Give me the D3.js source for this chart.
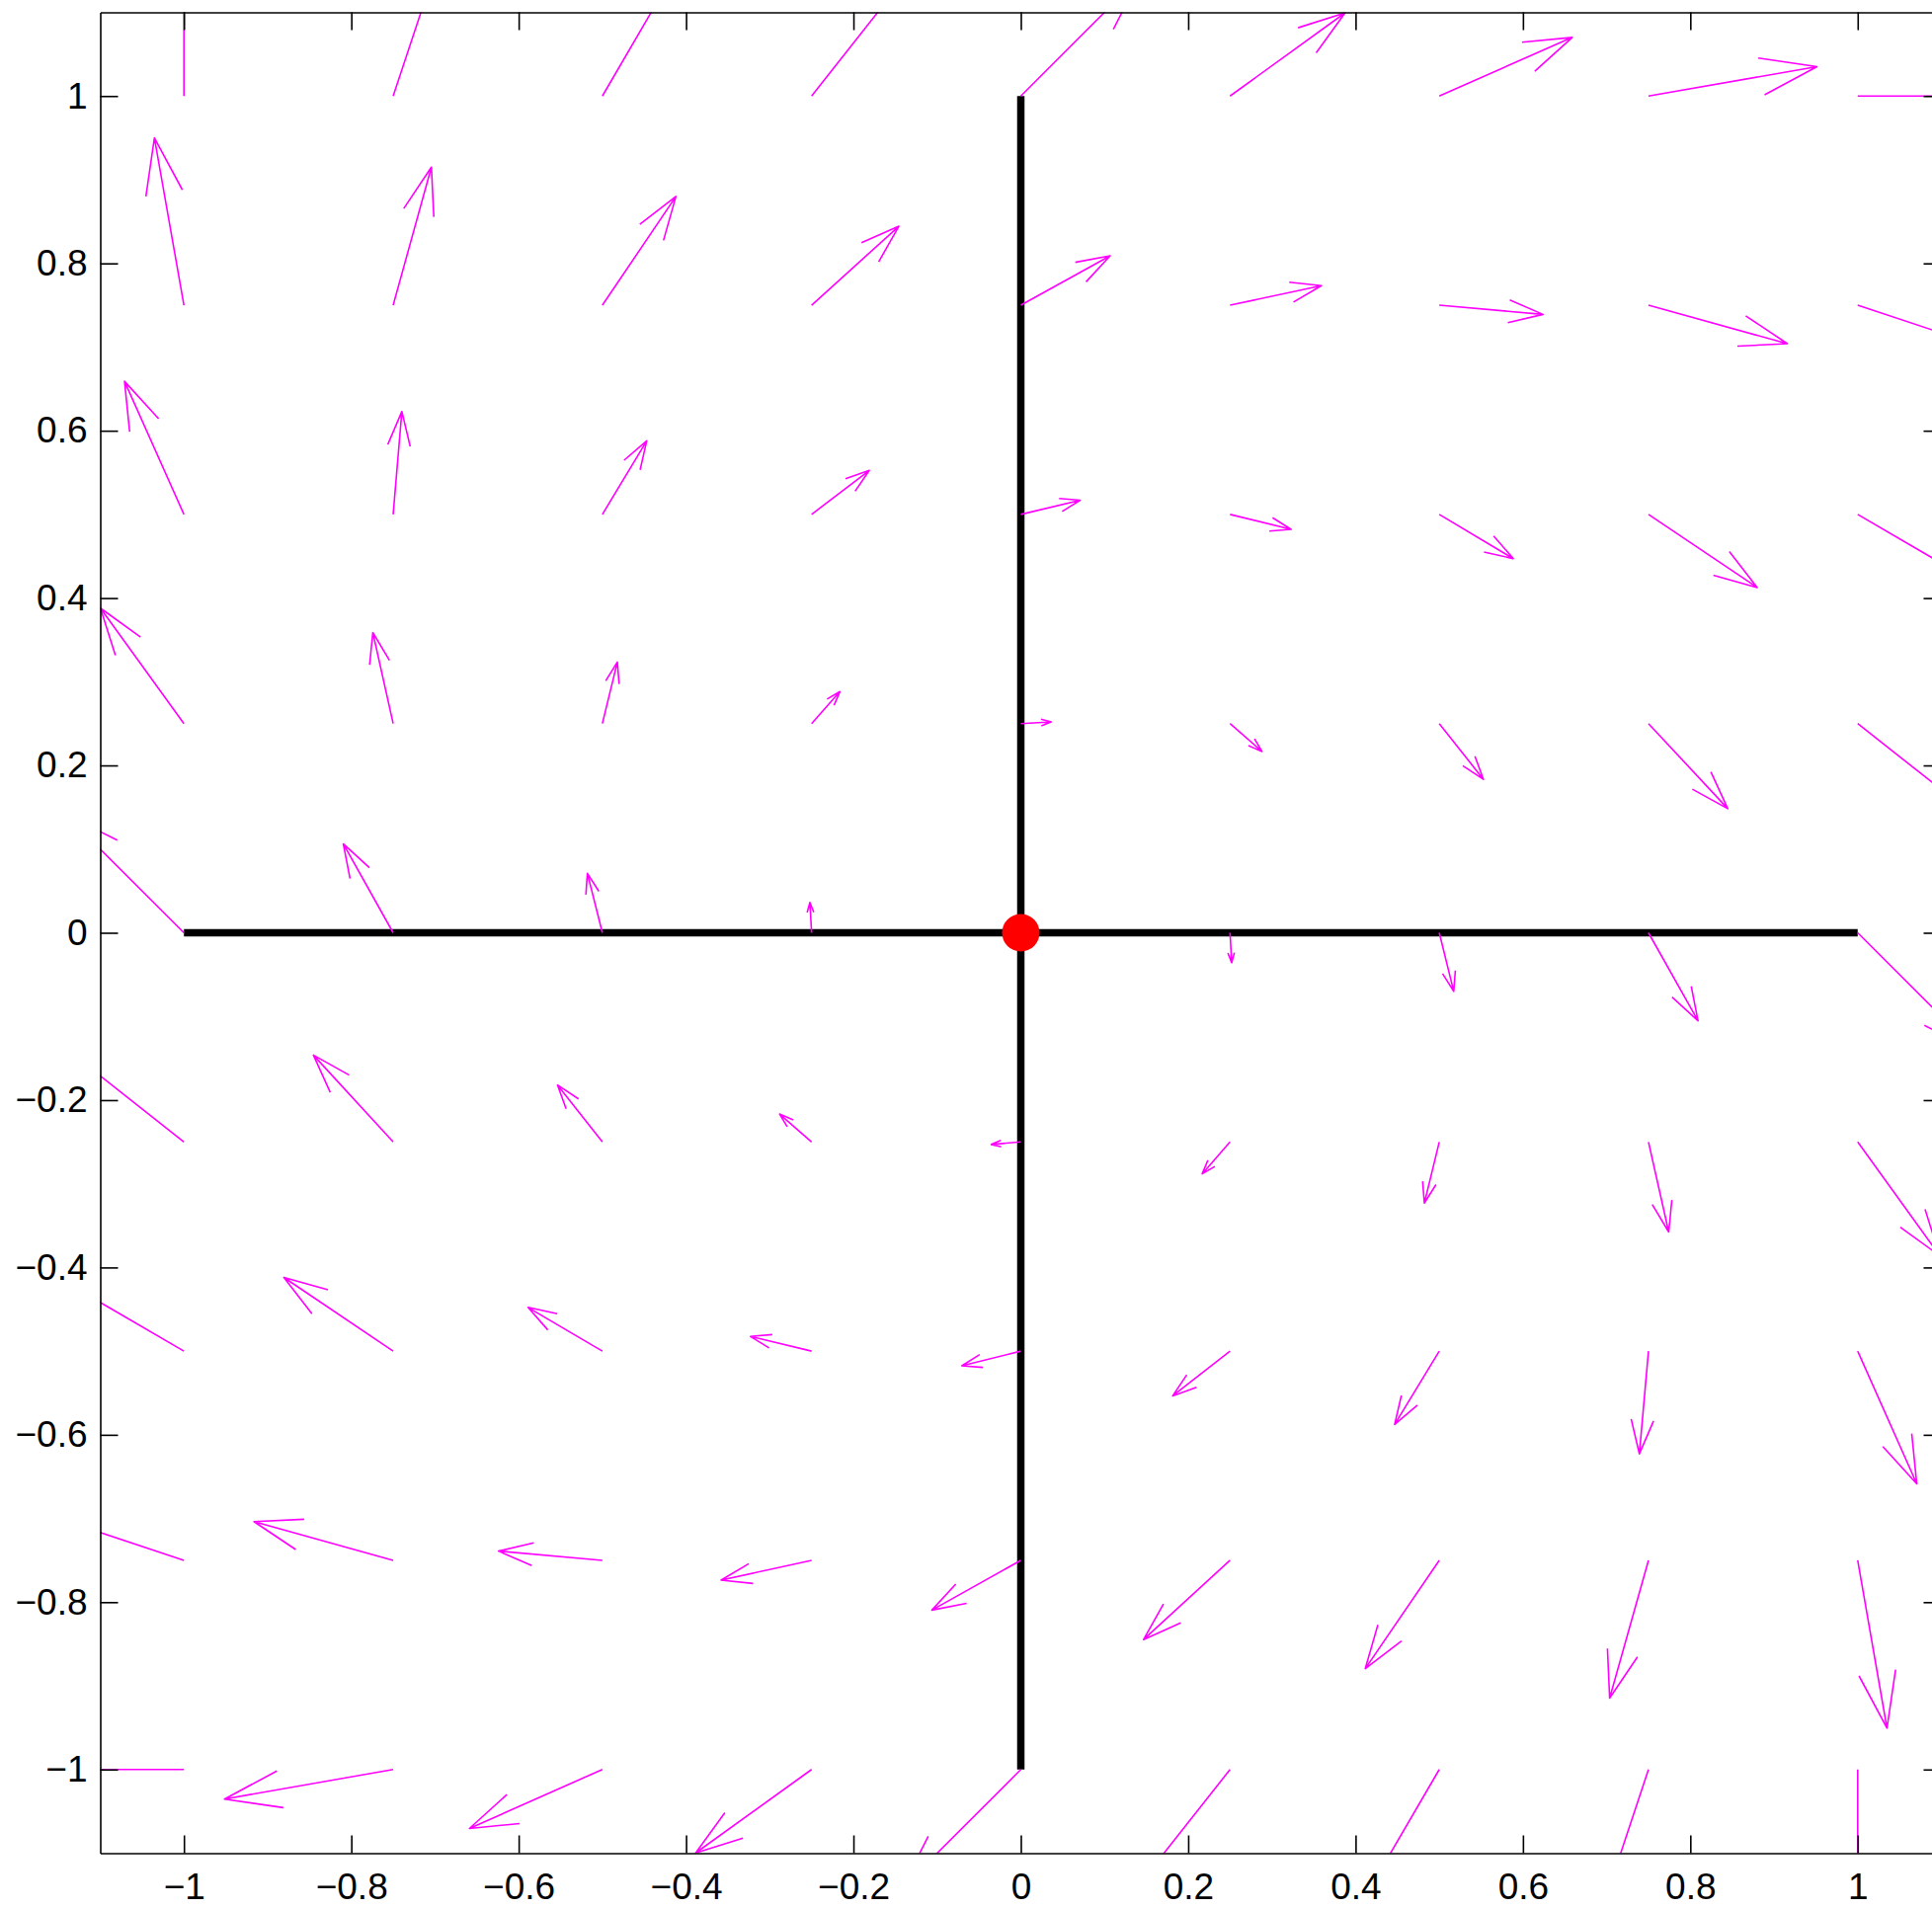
<!DOCTYPE html>
<html>
<head>
<meta charset="utf-8">
<script src="https://cdn.jsdelivr.net/npm/d3@7"></script>
<style>
  body { margin: 0; background: #fff; }
  svg { display: block; }
</style>
</head>
<body>
<svg id="chart" width="1956" height="1932"></svg>
<script>
// quiver grid (tails of the arrows)
const gridX = [-1, -0.75, -0.5, -0.25, 0, 0.25, 0.5, 0.75, 1];
const gridY = [1, 0.75, 0.5, 0.25, 0, -0.25, -0.5, -0.75, -1];

// arrow components as drawn (already scaled), one row per gridY value
const uRows = [
  [0, 0.082, 0.123, 0.139, 0.142, 0.1375, 0.159, 0.2014, 0.282],
  [-0.0353, 0.0457, 0.0879, 0.1043, 0.1068, 0.1093, 0.124, 0.166, 0.247],
  [-0.071, 0.0104, 0.053, 0.069, 0.071, 0.073, 0.0884, 0.130, 0.211],
  [-0.0998, -0.0243, 0.0179, 0.0338, 0.0363, 0.0382, 0.0528, 0.0948, 0.176],
  [-0.142, -0.0596, -0.0179, -0.002, 0, 0.002, 0.0173, 0.0592, 0.142],
  [-0.176, -0.0953, -0.0536, -0.0382, -0.0353, -0.0333, -0.0178, 0.0242, 0.098],
  [-0.211, -0.1306, -0.0889, -0.073, -0.0705, -0.0685, -0.0533, -0.0109, 0.0706],
  [-0.247, -0.1663, -0.1241, -0.1082, -0.1063, -0.1033, -0.0884, -0.0464, 0.035],
  [-0.282, -0.2016, -0.1589, -0.1385, -0.142, -0.139, -0.123, -0.082, 0]
];
const vRows = [
  [0.282, 0.247, 0.211, 0.176, 0.142, 0.0994, 0.0701, 0.035, 0],
  [0.200, 0.165, 0.130, 0.0944, 0.0591, 0.0233, -0.011, -0.046, -0.082],
  [0.159, 0.123, 0.088, 0.0526, 0.0169, -0.0179, -0.0528, -0.0874, -0.123],
  [0.138, 0.1088, 0.0735, 0.0382, 0.002, -0.0333, -0.0667, -0.1017, -0.139],
  [0.142, 0.1063, 0.071, 0.0363, 0, -0.0358, -0.0701, -0.1052, -0.142],
  [0.139, 0.1038, 0.068, 0.0333, -0.003, -0.0382, -0.0731, -0.1076, -0.136],
  [0.123, 0.0881, 0.0523, 0.0176, -0.0176, -0.0534, -0.0876, -0.1228, -0.1586],
  [0.082, 0.0463, 0.011, -0.0237, -0.0595, -0.0947, -0.1294, -0.1647, -0.2005],
  [0, -0.0353, -0.0705, -0.0997, -0.142, -0.176, -0.211, -0.247, -0.282]
];

// thick black cross and the equilibrium point
const crossLines = [
  { x1: -1, y1: 0, x2: 1, y2: 0 },
  { x1: 0, y1: -1, x2: 0, y2: 1 }
];
const equilibria = [{ x: 0, y: 0 }];

const tickValues = [-1, -0.8, -0.6, -0.4, -0.2, 0, 0.2, 0.4, 0.6, 0.8, 1];
const axisLimits = [-1.1, 1.1];

const svg = d3.select('#chart');
const x = d3.scaleLinear().domain(axisLimits).range([101.5, 1965.5]);
const y = d3.scaleLinear().domain(axisLimits).range([1876.5, 12.5]);

svg.append('rect').attr('width', 1956).attr('height', 1932).attr('fill', '#fff');

svg.append('defs').append('clipPath').attr('id', 'plotClip')
  .append('rect')
    .attr('x', x(axisLimits[0])).attr('y', y(axisLimits[1]))
    .attr('width', x(axisLimits[1]) - x(axisLimits[0]))
    .attr('height', y(axisLimits[0]) - y(axisLimits[1]));

const plot = svg.append('g').attr('clip-path', 'url(#plotClip)');

// black cross
plot.append('g')
  .selectAll('line')
  .data(crossLines)
  .join('line')
    .attr('x1', d => x(d.x1)).attr('y1', d => y(d.y1))
    .attr('x2', d => x(d.x2)).attr('y2', d => y(d.y2))
    .attr('stroke', '#000')
    .attr('stroke-width', 7.5)
    .attr('stroke-linecap', 'butt');

// red dot
plot.append('g')
  .selectAll('circle')
  .data(equilibria)
  .join('circle')
    .attr('cx', d => x(d.x)).attr('cy', d => y(d.y))
    .attr('r', 19)
    .attr('fill', '#ff0000');

// quiver arrows, head shape like matlab (alpha = beta = 0.33)
const arrows = [];
gridY.forEach((gy, i) => {
  gridX.forEach((gx, j) => {
    const u = uRows[i][j], v = vRows[i][j];
    if (u === 0 && v === 0) return;
    arrows.push({ x: gx, y: gy, u, v });
  });
});

const alpha = 0.33, beta = 0.33;
function arrowPath(d) {
  const tx = d.x + d.u, ty = d.y + d.v;
  const e1x = tx - alpha * (d.u + beta * d.v), e1y = ty - alpha * (d.v - beta * d.u);
  const e2x = tx - alpha * (d.u - beta * d.v), e2y = ty - alpha * (d.v + beta * d.u);
  const p = d3.path();
  p.moveTo(x(d.x), y(d.y));
  p.lineTo(x(tx), y(ty));
  p.moveTo(x(e1x), y(e1y));
  p.lineTo(x(tx), y(ty));
  p.lineTo(x(e2x), y(e2y));
  return p.toString();
}

plot.append('g')
  .selectAll('path')
  .data(arrows)
  .join('path')
    .attr('d', arrowPath)
    .attr('fill', 'none')
    .attr('stroke', '#ff00ff')
    .attr('stroke-width', 1.6)
    .attr('stroke-linejoin', 'round');

// axes box with inward ticks
const fmt = d => (d < 0 ? '\u2212' : '') + d3.format('~g')(Math.abs(d));

function styleAxis(g) {
  g.selectAll('path.domain').attr('stroke-width', 1.6);
  g.selectAll('.tick line').attr('stroke-width', 1.6);
  g.selectAll('text')
    .attr('font-family', '"Liberation Sans", Helvetica, Arial, sans-serif')
    .attr('font-size', 37)
    .attr('fill', '#000');
}

svg.append('g')
  .attr('transform', `translate(0,${y(axisLimits[0])})`)
  .call(d3.axisBottom(x).tickValues(tickValues).tickFormat(fmt)
    .tickSizeInner(-18).tickSizeOuter(0).tickPadding(20))
  .call(styleAxis);

svg.append('g')
  .attr('transform', `translate(0,${y(axisLimits[1])})`)
  .call(d3.axisTop(x).tickValues(tickValues).tickFormat('')
    .tickSizeInner(-18).tickSizeOuter(0))
  .call(styleAxis);

svg.append('g')
  .attr('transform', `translate(${x(axisLimits[0])},0)`)
  .call(d3.axisLeft(y).tickValues(tickValues).tickFormat(fmt)
    .tickSizeInner(-18).tickSizeOuter(0).tickPadding(13))
  .call(styleAxis);

svg.append('g')
  .attr('transform', `translate(${x(axisLimits[1])},0)`)
  .call(d3.axisRight(y).tickValues(tickValues).tickFormat('')
    .tickSizeInner(-18).tickSizeOuter(0))
  .call(styleAxis);
</script>
</body>
</html>
